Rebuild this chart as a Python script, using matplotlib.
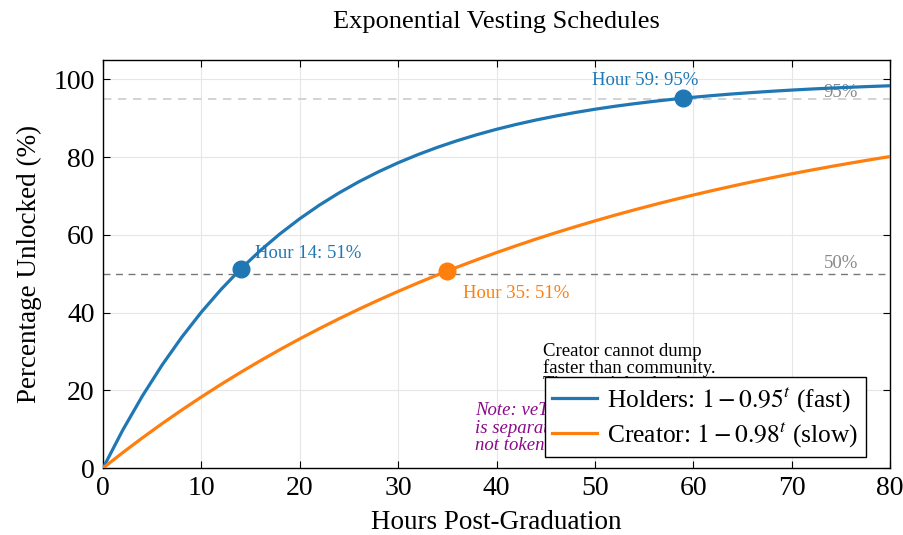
import matplotlib
matplotlib.use("Agg")
import matplotlib.pyplot as plt

plt.rcParams["font.family"] = ["Liberation Serif", "DejaVu Serif"]
plt.rcParams["mathtext.fontset"] = "stix"

# ---------------------------------------------------------------------------
# Data
# ---------------------------------------------------------------------------
hours = [0, 2, 4, 6, 8, 10, 12, 14, 16, 18, 20, 22, 24, 26, 28, 30, 32, 34,
         36, 38, 40, 42, 44, 46, 48, 50, 52, 54, 56, 58, 60, 62, 64, 66, 68,
         70, 72, 74, 76, 78, 80]
holders_pct = [0.0, 9.75, 18.55, 26.49, 33.66, 40.13, 45.96, 51.23, 55.99,
               60.28, 64.15, 67.65, 70.80, 73.65, 76.22, 78.54, 80.63, 82.52,
               84.22, 85.76, 87.15, 88.40, 89.53, 90.55, 91.47, 92.31, 93.06,
               93.73, 94.34, 94.90, 95.39, 95.84, 96.25, 96.61, 96.94, 97.24,
               97.51, 97.75, 97.97, 98.17, 98.35]
creator_pct = [0.0, 3.96, 7.76, 11.42, 14.92, 18.29, 21.53, 24.64, 27.62,
               30.49, 33.24, 35.88, 38.42, 40.86, 43.20, 45.45, 47.61, 49.69,
               51.68, 53.59, 55.43, 57.19, 58.89, 60.52, 62.08, 63.58, 65.03,
               66.41, 67.74, 69.02, 70.24, 71.42, 72.55, 73.64, 74.69, 75.69,
               76.65, 77.58, 78.46, 79.32, 80.14]

# milestone markers: (hour, pct, label)
holder_marks = [(14, 51.23, "Hour 14: 51%"), (59, 95.15, "Hour 59: 95%")]
creator_marks = [(35, 50.60, "Hour 35: 51%")]

ref_levels = [50, 95]

BLUE = "#1f77b4"
ORANGE = "#ff7f0e"

fig = plt.figure(figsize=(9.04, 5.35), dpi=100)
ax = fig.add_axes([0.114, 0.1252, 0.8705, 0.7628])

# reference lines
ax.axhline(ref_levels[0], color="#777777", lw=1.0, ls=(0, (5, 4)), zorder=1)
ax.axhline(ref_levels[1], color="#cccccc", lw=1.2, ls=(0, (5, 4)), zorder=1)
ax.text(75, 52.7, "50%", color="#888888", fontsize=13.5, ha="center", va="center")
ax.text(75, 96.7, "95%", color="#888888", fontsize=13.5, ha="center", va="center")

ax.plot(hours, holders_pct, color=BLUE, lw=2.3,
        label=r"Holders: $1 - 0.95^t$ (fast)", zorder=3)
ax.plot(hours, creator_pct, color=ORANGE, lw=2.3,
        label=r"Creator: $1 - 0.98^t$ (slow)", zorder=3)

for h, p, _ in holder_marks:
    ax.plot(h, p, "o", color=BLUE, ms=12, zorder=4)
for h, p, _ in creator_marks:
    ax.plot(h, p, "o", color=ORANGE, ms=12, zorder=4)

ax.text(15.45, 55.3, holder_marks[0][2], color=BLUE, fontsize=13.5, va="center")
ax.text(49.7, 99.7, holder_marks[1][2], color=BLUE, fontsize=13.5, va="center")
ax.text(36.6, 45.0, creator_marks[0][2], color=ORANGE, fontsize=13.5, va="center")

# side notes (partly hidden by the legend, as in the original)
ax.text(44.7, 32.2, "Creator cannot dump\nfaster than community.\nTime-weighted release",
        fontsize=13.5, va="top", ha="left", linespacing=0.95, zorder=2)
ax.text(37.8, 17.0, "Note: veToken locking\nis separate from vesting,\nnot token release.",
        fontsize=13.5, va="top", ha="left", color="#8b0a8b", style="italic",
        linespacing=1.0, zorder=2)

ax.set_xlim(0, 80)
ax.set_ylim(0, 105)
ax.set_xticks(range(0, 81, 10))
ax.set_yticks(range(0, 101, 20))
ax.grid(True, color="#e6e6e6", lw=0.8)
ax.set_axisbelow(True)
ax.tick_params(direction="in", top=True, right=True, labelsize=20, length=5,
               pad=6)
for s in ax.spines.values():
    s.set_color("black")
    s.set_linewidth(1.0)

ax.set_xlabel("Hours Post-Graduation", fontsize=19.5, labelpad=6)
ax.set_ylabel("Percentage Unlocked (%)", fontsize=19.5, labelpad=8)
ax.set_title("Exponential Vesting Schedules", fontsize=19, pad=23)

leg = ax.legend(loc="lower right", bbox_to_anchor=(0.9695, 0.027), fontsize=18.4,
                frameon=True, fancybox=False, framealpha=1.0, edgecolor="black",
                handlelength=1.75, handletextpad=0.4, borderpad=0.3,
                labelspacing=0.25, borderaxespad=0)
leg.get_frame().set_linewidth(1.0)
leg.set_zorder(5)

fig.savefig("out.png", dpi=100)
